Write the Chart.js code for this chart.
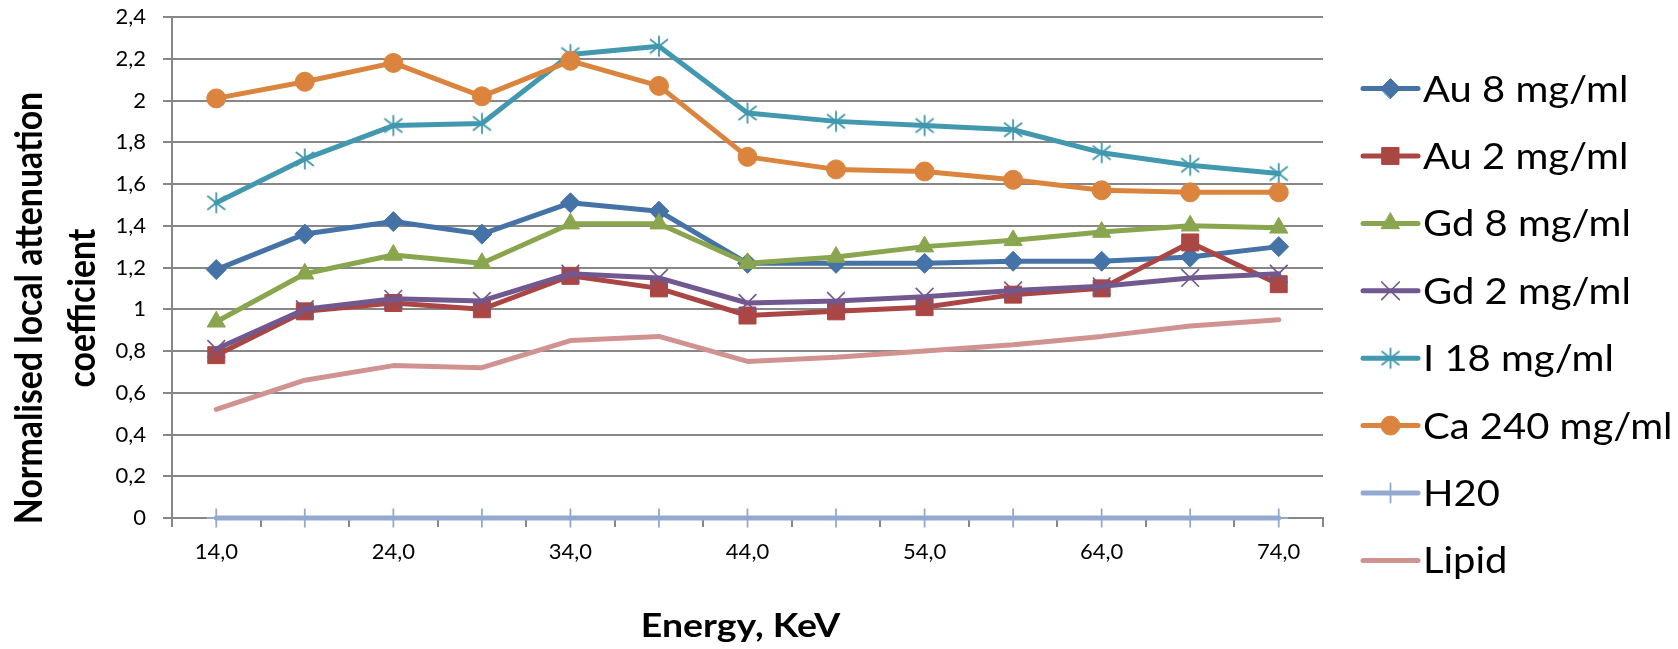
<!DOCTYPE html>
<html>
<head>
<meta charset="utf-8">
<script src="https://cdn.jsdelivr.net/npm/chart.js@4/dist/chart.umd.min.js"></script>
<style>
  html, body { margin: 0; padding: 0; background: #fff; }
  #wrap { width: 1678px; height: 649px; }
</style>
</head>
<body>
<div id="wrap"><canvas id="attChart" width="1678" height="649"></canvas></div>
<script>
'use strict';

// energies in keV (category axis)
var energies = [14, 19, 24, 29, 34, 39, 44, 49, 54, 59, 64, 69, 74];

var au8 = [1.19, 1.36, 1.42, 1.36, 1.51, 1.47, 1.22, 1.22, 1.22, 1.23, 1.23, 1.25, 1.30];
var au2 = [0.78, 0.99, 1.03, 1.00, 1.16, 1.10, 0.97, 0.99, 1.01, 1.07, 1.10, 1.32, 1.12];
var gd8 = [0.94, 1.17, 1.26, 1.22, 1.41, 1.41, 1.22, 1.25, 1.30, 1.33, 1.37, 1.40, 1.39];
var gd2 = [0.81, 1.00, 1.05, 1.04, 1.17, 1.15, 1.03, 1.04, 1.06, 1.09, 1.11, 1.15, 1.17];
var i18 = [1.51, 1.72, 1.88, 1.89, 2.22, 2.26, 1.94, 1.90, 1.88, 1.86, 1.75, 1.69, 1.65];
var ca240 = [2.01, 2.09, 2.18, 2.02, 2.19, 2.07, 1.73, 1.67, 1.66, 1.62, 1.57, 1.56, 1.56];
var h2o = [0, 0, 0, 0, 0, 0, 0, 0, 0, 0, 0, 0, 0];
var lipid = [0.52, 0.66, 0.73, 0.72, 0.85, 0.87, 0.75, 0.77, 0.80, 0.83, 0.87, 0.92, 0.95];

var seriesNames = ['Au 8 mg/ml', 'Au 2 mg/ml', 'Gd 8 mg/ml', 'Gd 2 mg/ml', 'I 18 mg/ml', 'Ca 240 mg/ml', 'H20', 'Lipid'];
var yTitle = ['Normalised local attenuation', 'coefficient'];
var xTitle = 'Energy, KeV';

(function drawChart () {
    var FONT = 'Lato, "Open Sans", sans-serif';
    var GRID = '#878787';

    function fmt (v, digits) {
        return v.toFixed(digits).replace('.', ',');
    }

    // six-armed asterisk marker (vertical bar + x), as in the spreadsheet
    function asterisk (color) {
        var c = document.createElement('canvas');
        c.width = 24;
        c.height = 24;
        var g = c.getContext('2d');
        g.strokeStyle = color;
        g.lineWidth = 1.8;
        g.beginPath();
        g.moveTo(12, 1.5); g.lineTo(12, 22.5);
        g.moveTo(3, 5); g.lineTo(21, 19);
        g.moveTo(21, 5); g.lineTo(3, 19);
        g.stroke();
        return c;
    }

    function series (i, data, color, style, radius, bw) {
        return {
            label: seriesNames[i],
            data: data,
            borderColor: color,
            backgroundColor: color,
            borderWidth: 5,
            borderCapStyle: 'round',
            borderJoinStyle: 'round',
            tension: 0,
            clip: false,
            pointStyle: style,
            pointRadius: radius,
            pointBackgroundColor: color,
            pointBorderColor: color,
            pointBorderWidth: bw,
            order: -i
        };
    }

    var datasets = [
        series(0, au8, '#4572A7', 'rectRot', 10, 1),
        series(1, au2, '#AA4643', 'rect', 12, 1),
        series(2, gd8, '#89A54E', 'triangle', 10.5, 1),
        series(3, gd2, '#71588F', 'crossRot', 12.5, 1.6),
        series(4, i18, '#4198AF', asterisk('#4198AF'), 11, 1.6),
        series(5, ca240, '#DB843D', 'circle', 9.5, 1),
        series(6, h2o, '#93A9CF', 'cross', 9.5, 1.8),
        series(7, lipid, '#D19392', false, 0, 0)
    ];

    // text a little wider than the font's own proportions
    function wideText (ctx, text, x, y, sx) {
        ctx.save();
        ctx.translate(x, y);
        ctx.scale(sx, 1);
        ctx.fillText(text, 0, 0);
        ctx.restore();
    }

    // legend at the right (line + marker) and both axis titles
    var sideDecor = {
        id: 'sideDecor',
        afterDraw: function (chart) {
            var ctx = chart.ctx;
            var area = chart.chartArea;
            var x0 = area.right + 40;
            var x1 = x0 + 55;
            var step = 67.4;
            ctx.save();
            datasets.forEach(function (ds, i) {
                var y = chart.height / 2 + (i - 3.5) * step;
                ctx.strokeStyle = ds.borderColor;
                ctx.lineWidth = 5;
                ctx.lineCap = 'round';
                ctx.beginPath();
                ctx.moveTo(x0, y);
                ctx.lineTo(x1, y);
                ctx.stroke();
                if (ds.pointStyle) {
                    ctx.fillStyle = ds.pointBackgroundColor;
                    ctx.strokeStyle = ds.pointBorderColor;
                    ctx.lineWidth = ds.pointBorderWidth;
                    Chart.helpers.drawPoint(ctx, {
                        pointStyle: ds.pointStyle,
                        radius: ds.pointRadius,
                        rotation: 0,
                        borderWidth: ds.pointBorderWidth
                    }, (x0 + x1) / 2, y);
                }
                ctx.fillStyle = '#000';
                ctx.font = '37px ' + FONT;
                ctx.textBaseline = 'alphabetic';
                ctx.textAlign = 'left';
                wideText(ctx, ds.label, x1 + 5, y + 13, 1.08);
            });

            // x title
            ctx.font = 'bold 32px ' + FONT;
            ctx.textAlign = 'center';
            wideText(ctx, xTitle, (area.left + area.right) / 2 - 7, 637, 1.17);

            // rotated two-line y title, squeezed along its length
            ctx.font = 'bold 38px ' + FONT;
            ctx.translate(0, 308);
            ctx.rotate(-Math.PI / 2);
            ctx.scale(0.89, 1);
            ctx.fillText(yTitle[0], 0, 42);
            ctx.fillText(yTitle[1], 0, 95);
            ctx.restore();
        }
    };

    var ctx = document.getElementById('attChart').getContext('2d');

    new Chart(ctx, {
        type: 'line',
        data: {
            labels: energies,
            datasets: datasets
        },
        options: {
            responsive: false,
            animation: false,
            events: [],
            layout: {
                padding: { left: 0, right: 355, top: 17, bottom: 0 }
            },
            plugins: {
                legend: { display: false },
                tooltip: { enabled: false }
            },
            scales: {
                x: {
                    offset: true,
                    grid: {
                        offset: true,
                        drawOnChartArea: false,
                        drawTicks: true,
                        tickLength: 9,
                        color: GRID,
                        lineWidth: 2
                    },
                    border: { display: true, color: GRID, width: 2 },
                    ticks: {
                        autoSkip: false,
                        maxRotation: 0,
                        padding: 12,
                        color: '#000',
                        font: { family: FONT, size: 22 },
                        callback: function (value, index) {
                            return index % 2 === 0 ? fmt(energies[index], 1) : '';
                        }
                    },
                    afterFit: function (scale) {
                        scale.height = 131;
                        scale.paddingLeft = 0;
                        scale.paddingRight = 0;
                    }
                },
                y: {
                    min: 0,
                    max: 2.4,
                    grid: {
                        color: GRID,
                        lineWidth: 2,
                        drawTicks: true,
                        tickLength: 9
                    },
                    border: { display: true, color: GRID, width: 2 },
                    ticks: {
                        stepSize: 0.2,
                        padding: 17,
                        color: '#000',
                        font: { family: FONT, size: 22 },
                        callback: function (value) {
                            var r = Math.round(value * 10) / 10;
                            return r % 1 === 0 ? String(r) : fmt(r, 1);
                        }
                    },
                    afterFit: function (scale) {
                        scale.width = 172;
                        scale.paddingTop = 0;
                        scale.paddingBottom = 0;
                    }
                }
            }
        },
        plugins: [sideDecor]
    });
}());
</script>
</body>
</html>
